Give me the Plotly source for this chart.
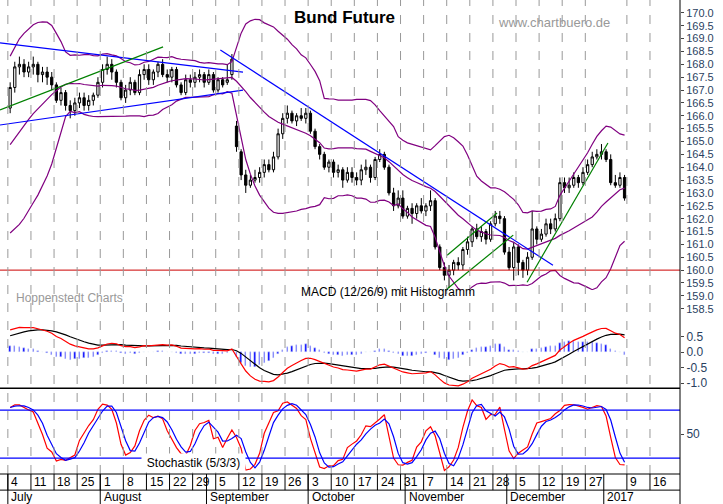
import pandas as pd
import numpy as np
import plotly.graph_objects as go

dates = [d for d in pd.bdate_range("2016-07-04", "2017-01-06") if d != pd.Timestamp("2016-12-26")]

# estimated closes of the 20 sessions before the chart starts (only used to warm up the indicators)
warmup_closes = [162.5,162.8,163.0,163.2,163.0,163.5,163.8,163.6,164.0,163.8,
                 163.5,164.0,164.3,165.5,166.8,166.5,167.2,167.0,167.6,167.4]

opens = [166.3,167.1,167.9,168.0,167.7, 167.9,168.0,167.6,167.7,167.5, 167.2,166.6,166.9,166.4,166.2,
 166.5,166.7,166.4,166.6,166.8, 167.3,167.8,168.0,167.7,167.3, 166.7,167.0,167.3,166.9,167.6,
 167.8,167.4,167.7,168.0,167.6, 167.5,167.8,167.2,166.9,167.4, 167.3,167.5,167.6,167.3,167.6,
 167.0,167.4,167.3,167.6,165.6, 164.6,163.7,163.3,163.5,163.6, 163.8,164.1,163.9,164.4,165.3,
 165.9,166.1,165.8,166.0,165.9, 166.1,165.4,164.8,164.5,164.0, 164.2,163.8,163.9,163.5,163.8,
 163.6,163.5,163.9,164.0,163.6, 164.3,164.5,164.0,163.0,162.5, 162.8,162.1,162.4,162.2,162.5,
 162.3,162.5,162.7,160.9,160.1, 159.8,160.0,160.3,160.2,160.8, 161.1,161.6,161.3,161.5,161.2,
 161.8,162.1,162.0,160.7,160.1, 160.9,160.3,160.0,160.5,161.6, 161.2,161.4,161.8,161.6,162.0,
 163.4,163.2,163.3,163.6,163.4, 163.8,164.1,164.4,164.5, 164.6,164.3,163.4,163.3,163.6]
closes = [167.1,167.9,168.0,167.7,167.9, 168.0,167.6,167.7,167.5,167.2, 166.6,166.9,166.4,166.2,166.5,
 166.7,166.4,166.6,166.8,167.3, 167.8,168.0,167.7,167.3,166.7, 167.0,167.3,166.9,167.6,167.8,
 167.4,167.7,168.0,167.6,167.5, 167.8,167.2,166.9,167.4,167.3, 167.5,167.6,167.3,167.6,167.0,
 167.4,167.2,167.4,168.2,164.8, 163.7,163.3,163.5,163.6,163.8, 164.1,163.9,164.4,165.3,165.9,
 166.1,165.8,166.0,165.9,166.1, 165.4,164.8,164.5,164.0,164.2, 163.8,163.9,163.5,163.8,163.6,
 163.5,163.9,164.0,163.6,164.3, 164.5,164.0,163.0,162.5,162.8, 162.1,162.4,162.2,162.5,162.3,
 162.5,162.7,160.9,160.1,159.8, 160.0,160.3,160.2,160.8,161.1, 161.6,161.3,161.5,161.2,161.8,
 162.1,162.0,160.7,160.1,160.9, 160.3,160.0,160.5,161.6,161.2, 161.4,161.8,161.6,162.0,163.4,
 163.2,163.3,163.6,163.4,163.8, 164.1,164.4,164.5,164.6, 164.3,163.4,163.3,163.6,162.8]
highs = [167.3,168.1,168.3,168.2,168.1, 168.3,168.1,167.9,167.9,167.7, 167.3,167.1,167.0,166.6,166.7,
 166.9,166.9,166.8,166.9,167.5, 168.0,168.3,168.2,167.8,167.4, 167.2,167.5,167.4,167.8,168.0,
 168.0,167.8,168.1,168.2,167.8, 167.9,167.9,167.3,167.6,167.6, 167.7,167.8,167.7,167.8,167.7,
 167.5,167.5,168.0,168.4,165.8, 164.7,163.9,163.7,163.9,164.0, 164.3,164.3,164.6,165.5,166.1,
 166.4,166.2,166.1,166.3,166.3, 166.2,165.5,164.9,164.6,164.3, 164.3,164.1,164.0,164.0,164.0,
 163.8,164.1,164.3,164.1,164.4, 164.7,164.6,164.1,163.2,163.1, 163.1,162.5,162.6,162.6,162.8,
 162.6,163.1,162.8,161.0,160.3, 160.2,160.4,160.5,160.9,161.3, 161.7,161.8,161.7,161.6,161.9,
 162.3,162.3,162.1,160.9,161.1, 161.0,160.4,160.7,162.3,161.7, 161.6,162.0,162.0,162.2,163.6,
 163.6,163.6,163.8,163.7,164.0, 164.3,164.6,164.7,164.9, 164.7,164.5,163.7,163.8,163.7]
lows = [166.1,166.9,167.6,167.5,167.5, 167.6,167.3,167.3,167.2,167.0, 166.5,166.4,166.2,165.9,166.0,
 166.3,166.2,166.2,166.4,166.7, 167.1,167.6,167.4,167.1,166.6, 166.5,166.8,166.8,166.8,167.4,
 167.2,167.2,167.5,167.5,167.3, 167.3,167.1,166.8,166.8,167.1, 167.1,167.3,167.1,167.2,166.9,
 166.9,167.1,167.2,167.4,164.6, 163.5,163.0,163.2,163.4,163.4, 163.6,163.8,163.8,164.3,165.1,
 165.7,165.7,165.6,165.8,165.7, 165.3,164.7,164.3,163.9,163.8, 163.6,163.6,163.2,163.4,163.4,
 163.3,163.3,163.7,163.4,163.5, 164.2,163.9,162.9,162.3,162.4, 162.0,162.0,161.8,162.0,162.2,
 162.1,162.3,160.8,160.0,159.6, 159.3,159.8,160.0,160.0,160.6, 160.9,161.2,161.1,161.0,161.1,
 161.7,161.8,160.6,160.0,159.6, 159.8,159.7,159.8,160.4,161.0, 161.1,161.3,161.4,161.5,161.9,
 163.0,163.0,163.2,163.2,163.3, 163.7,164.0,164.3,164.3, 164.2,163.3,163.2,163.2,162.7]

trend_x0 = [-2.2, -2.2, -2.2, 45.5, 94.6, 93.7, 111.9]
trend_y0 = [168.83, 165.64, 166.23, 168.56, 160.58, 159.14, 159.53]
trend_x1 = [50.4, 50.4, 33.1, 117.5, 105.4, 108.9, 129.4]
trend_y1 = [167.70, 167.00, 168.68, 160.19, 162.22, 161.36, 164.94]
trend_col = ["#0000ff", "#0000ff", "#008000", "#0000ff", "#008000", "#008000", "#008000"]
support_level = 160.0

week_labels = ["4","11","18","25","1","8","15","22","29","5","12","19","26","3","10","17","24","31",
               "7","14","21","28","5","12","19","27","9","16"]
week_dates = ["2016-07-04","2016-07-11","2016-07-18","2016-07-25","2016-08-01","2016-08-08","2016-08-15",
              "2016-08-22","2016-08-29","2016-09-05","2016-09-12","2016-09-19","2016-09-26","2016-10-03",
              "2016-10-10","2016-10-17","2016-10-24","2016-10-31","2016-11-07","2016-11-14","2016-11-21",
              "2016-11-28","2016-12-05","2016-12-12","2016-12-19","2016-12-27","2017-01-09","2017-01-16"]
month_labels = ["July","August","September","October","November","December","2017"]
month_dates = ["2016-07-01","2016-08-01","2016-09-01","2016-10-03","2016-11-01","2016-12-01","2017-01-02"]

n = len(dates)
x = np.arange(n)
W = len(warmup_closes)
def idx_of(ds):
    d = pd.Timestamp(ds)
    pos = sum(1 for t in dates if t < d)
    if d > dates[-1]:
        pos = n - 1 + len(pd.bdate_range(dates[-1], d)) - 1
    return pos

h = pd.Series(np.maximum(highs, np.maximum(opens, closes)))
l = pd.Series(np.minimum(lows, np.minimum(opens, closes)))
call = pd.Series(warmup_closes + closes)
mid = call.rolling(20, min_periods=1).mean().iloc[W:].values
sd = call.rolling(20, min_periods=2).std(ddof=0).iloc[W:].values
up = mid + 2 * sd; lo = mid - 2 * sd
macd_all = call.ewm(span=12).mean() - call.ewm(span=26).mean()
sig_all = macd_all.ewm(span=9).mean()
macd = macd_all.iloc[W:].values; sig = sig_all.iloc[W:].values; hist = macd - sig
c = pd.Series(closes)
hh = h.rolling(5, min_periods=1).max(); ll = l.rolling(5, min_periods=1).min()
rawk = (c - ll) / (hh - ll) * 100
k = rawk.rolling(3, min_periods=1).mean(); dd = k.rolling(3, min_periods=1).mean()

fig = go.Figure()
for s in (up, mid, lo):
    fig.add_trace(go.Scatter(x=x, y=s, mode="lines", line=dict(color="#800080", width=1.2), yaxis="y"))
fig.add_trace(go.Candlestick(x=x, open=opens, high=h, low=l, close=closes, whiskerwidth=0,
    increasing=dict(line=dict(color="black", width=1), fillcolor="white"),
    decreasing=dict(line=dict(color="black", width=1), fillcolor="black"), yaxis="y"))
for i in range(len(trend_x0)):
    fig.add_trace(go.Scatter(x=[trend_x0[i], trend_x1[i]], y=[trend_y0[i], trend_y1[i]], mode="lines",
                             line=dict(color=trend_col[i], width=1.2), yaxis="y"))
fig.add_trace(go.Scatter(x=[-3, 146], y=[support_level]*2, mode="lines", line=dict(color="#cc0000", width=1), yaxis="y"))

fig.add_trace(go.Bar(x=x, y=hist, marker_color="#0000ff", width=0.3, yaxis="y2"))
fig.add_trace(go.Scatter(x=x, y=sig, mode="lines", line=dict(color="black", width=1.2), yaxis="y2"))
fig.add_trace(go.Scatter(x=x, y=macd, mode="lines", line=dict(color="#ff0000", width=1.2), yaxis="y2"))

fig.add_trace(go.Scatter(x=x, y=k, mode="lines", line=dict(color="#ff0000", width=1.2), yaxis="y3"))
fig.add_trace(go.Scatter(x=x, y=dd, mode="lines", line=dict(color="#0000ff", width=1.2), yaxis="y3"))
for lvl in (20, 80):
    fig.add_trace(go.Scatter(x=[-3, 146], y=[lvl]*2, mode="lines", line=dict(color="#0000ff", width=1.2), yaxis="y3"))

wk_idx = [idx_of(d) for d in week_dates]
mo_idx = [idx_of(d) for d in month_dates]
shapes = []
for wi in wk_idx:
    shapes.append(dict(type="line", xref="x", yref="paper", x0=wi - 0.5, x1=wi - 0.5, y0=0, y1=1,
                       line=dict(color="#999999", width=1, dash="dash")))
    shapes.append(dict(type="line", xref="x", yref="paper", x0=wi - 0.5, x1=wi - 0.5, y0=-0.034, y1=0,
                       line=dict(color="black", width=1)))
for mi in mo_idx:
    shapes.append(dict(type="line", xref="x", yref="paper", x0=mi - 0.5, x1=mi - 0.5, y0=-0.07, y1=0,
                       line=dict(color="black", width=1)))
shapes.append(dict(type="line", xref="paper", yref="paper", x0=0, x1=1, y0=0.181, y1=0.181, line=dict(color="black", width=1.5)))
shapes.append(dict(type="line", xref="paper", yref="paper", x0=0, x1=1, y0=0, y1=0, line=dict(color="black", width=1)))
shapes.append(dict(type="line", xref="paper", yref="paper", x0=0, x1=1, y0=-0.034, y1=-0.034, line=dict(color="black", width=1)))
shapes.append(dict(type="line", xref="paper", yref="paper", x0=1, x1=1, y0=-0.07, y1=1, line=dict(color="black", width=1)))

ann = []
F = "Liberation Sans, Arial"
FN = "Liberation Sans Narrow, Liberation Sans, Arial"
for lab, wi in zip(week_labels, wk_idx):
    ann.append(dict(x=wi - 0.2, y=-0.017, xref="x", yref="paper", text=lab, showarrow=False, xanchor="left",
                    yanchor="middle", font=dict(family=F, size=12, color="black")))
for lab, mi in zip(month_labels, mo_idx):
    ann.append(dict(x=mi - 0.2, y=-0.049, xref="x", yref="paper", text=lab, showarrow=False, xanchor="left",
                    yanchor="middle", font=dict(family=F, size=12, color="black")))
ann += [
    dict(x=0.507, y=1.0, xref="paper", yref="paper", text="<b>Bund Future</b>", showarrow=False, yanchor="top",
         yshift=-6, font=dict(family=F, size=17, color="black")),
    dict(x=0.9, y=0.972, xref="paper", yref="paper", text="www.chartbuero.de", showarrow=False,
         font=dict(family=F, size=13, color="#999999")),
    dict(x=0.02, y=0.371, xref="paper", yref="paper", text="Hoppenstedt Charts", showarrow=False, xanchor="left",
         yanchor="middle", font=dict(family=F, size=12, color="#999999")),
    dict(x=0.57, y=0.385, xref="paper", yref="paper", text="MACD (12/26/9) mit Histogramm", showarrow=False,
         yanchor="middle", font=dict(family=F, size=12, color="black")),
    dict(x=0.207, y=0.023, xref="paper", yref="paper", text="Stochastik (5/3/3)", showarrow=False, width=101,
         height=16, yanchor="middle", bgcolor="white", font=dict(family=F, size=12, color="black")),
]

fig.update_layout(
    width=723, height=504, margin=dict(l=0, r=43, t=0, b=30, autoexpand=False), paper_bgcolor="white",
    plot_bgcolor="white", showlegend=False, shapes=shapes, annotations=ann, bargap=0,
    xaxis=dict(range=[-2.2, 145], showgrid=False, showticklabels=False, zeroline=False,
               rangeslider=dict(visible=False), automargin=False),
    yaxis=dict(domain=[0.314, 1], range=[157.86, 170.5], side="right", tickvals=[158.5 + 0.5 * i for i in range(24)],
               ticktext=[f"{158.5 + 0.5 * i:.1f}" for i in range(24)], ticks="outside", ticklen=3, showgrid=False,
               zeroline=False, tickfont=dict(family=FN, size=11), automargin=False),
    yaxis2=dict(domain=[0.181, 0.388], range=[-1.16, 2.0], side="right", tickvals=[-1, -0.5, 0, 0.5],
                ticktext=["-1.0", "-0.5", "0.0", "0.5"], ticks="outside", ticklen=3, showgrid=False, zeroline=False,
                tickfont=dict(family=F, size=12), anchor="x", automargin=False),
    yaxis3=dict(domain=[0, 0.181], range=[0, 107.5], side="right", tickvals=[50], ticks="outside", ticklen=3,
                showgrid=False, zeroline=False, tickfont=dict(family=F, size=12), anchor="x", automargin=False),
    font=dict(family=F),
)
fig.write_html("out.html", config={"displayModeBar": False},
               post_script="document.body.style.margin='0';document.body.style.overflow='hidden';")
